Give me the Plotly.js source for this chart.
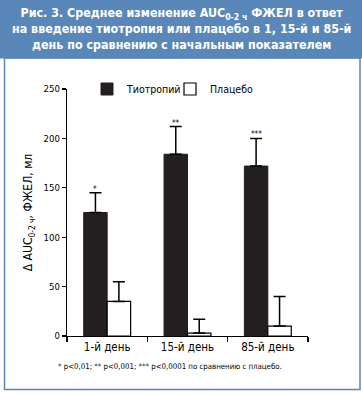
<!DOCTYPE html>
<html>
<head>
<meta charset="utf-8">
<script src="https://cdn.plot.ly/plotly-3.0.1.min.js"></script>
<style>
html,body{margin:0;padding:0;background:#fff;}
#chart{width:362px;height:393px;}
#chart svg text{font-stretch:condensed;}
</style>
</head>
<body>
<div id="chart"></div>
<script>
// ---- data ----
var categories = ["1-й день", "15-й день", "85-й день"];
var tiotropium = [125, 184, 172];
var tiotropiumErr = [20, 28, 28];
var placebo = [35, 3, 10];
var placeboErr = [20, 14, 30];
var significance = ["*", "**", "***"];
var seriesNames = ["Тиотропий", "Плацебо"];
var yTicks = [0, 50, 100, 150, 200, 250];

// ---- layout geometry ----
var W = 362, H = 393;
var M = {l: 67, r: 54, t: 89, b: 57};
var pw = W - M.l - M.r, ph = H - M.t - M.b;
function px(x) { return (x - M.l) / pw; }
function py(y) { return 1 - (y - M.t) / ph; }

var FONT = "'DejaVu Sans Condensed', 'DejaVu Sans', sans-serif";
var BLUE = "#5a87b9";
var DARK = "#231f20";

var traces = [
  {
    type: "bar", name: seriesNames[0], x: categories, y: tiotropium,
    marker: {color: DARK, line: {color: DARK, width: 1}},
    error_y: {type: "data", symmetric: false, array: tiotropiumErr, arrayminus: tiotropium.map(function(){return 0;}),
              color: "#000", thickness: 1.5, width: 6}
  },
  {
    type: "bar", name: seriesNames[1], x: categories, y: placebo,
    marker: {color: "#fff", line: {color: "#000", width: 1.2}},
    error_y: {type: "data", symmetric: false, array: placeboErr, arrayminus: placebo.map(function(){return 0;}),
              color: "#000", thickness: 1.5, width: 6}
  }
];

var annotations = [];
categories.forEach(function(c, i) {
  annotations.push({
    x: c, y: tiotropium[i] + tiotropiumErr[i], xref: "x", yref: "y",
    text: significance[i], showarrow: false, xshift: -11.75, yanchor: "bottom", yshift: -3,
    font: {family: FONT, size: 8, color: "#000"}
  });
});
annotations.push({
  xref: "paper", yref: "paper", x: px(181), y: py(29), xanchor: "center", yanchor: "middle",
  text: "Рис. 3. Среднее изменение AUC<sub>0-2 ч</sub> ФЖЕЛ в ответ<br>на введение тиотропия или плацебо в 1, 15-й и 85-й<br>день по сравнению с начальным показателем",
  showarrow: false, align: "center",
  font: {family: FONT, size: 12.4, color: "#fff", weight: "bold"}
});
annotations.push({
  xref: "paper", yref: "paper", x: px(170), y: py(366), xanchor: "center", yanchor: "middle",
  text: "* p&lt;0,01; ** p&lt;0,001; *** p&lt;0,0001 по сравнению с плацебо.",
  showarrow: false, font: {family: FONT, size: 7.8, color: "#000"}
});

var shapes = [
  {type: "rect", xref: "paper", yref: "paper", x0: px(0), x1: px(W), y0: py(0), y1: py(58.5),
   fillcolor: BLUE, line: {width: 0}, layer: "below"},
  {type: "rect", xref: "paper", yref: "paper", x0: px(4.5), x1: px(360), y0: py(58), y1: py(389.5),
   fillcolor: "rgba(0,0,0,0)", line: {color: BLUE, width: 1.5}, layer: "below"}
];

var layout = {
  width: W, height: H,
  margin: M,
  paper_bgcolor: "#fff", plot_bgcolor: "#fff",
  barmode: "group", bargap: 0.416, bargroupgap: 0,
  showlegend: true,
  legend: {orientation: "h", x: px(87), y: py(89), xanchor: "left", yanchor: "middle",
           font: {family: FONT, size: 10.5, color: "#000"}, bgcolor: "rgba(0,0,0,0)",
           entrywidth: 38, entrywidthmode: "pixels", traceorder: "normal"},
  font: {family: FONT, color: "#000"},
  xaxis: {
    type: "category", range: [-0.5, 2.5], showline: true, linecolor: "#000", linewidth: 1.2,
    ticks: "outside", tickson: "boundaries", ticklen: 5, tickcolor: "#000", tickwidth: 1.2,
    showgrid: false, zeroline: false, tickfont: {family: FONT, size: 11.5, color: "#000"}
  },
  yaxis: {
    range: [0, 250], tickvals: yTicks, showline: true, linecolor: "#000", linewidth: 1.2,
    ticks: "outside", ticklen: 4, tickcolor: "#000", tickwidth: 1.2,
    showgrid: false, zeroline: false, tickfont: {family: FONT, size: 9.5, color: "#000"},
    title: {text: "Δ AUC<sub>0-2 ч</sub>, ФЖЕЛ, мл", font: {family: FONT, size: 12, color: "#000"}, standoff: 8}
  },
  annotations: annotations,
  shapes: shapes
};

Plotly.newPlot("chart", traces, layout, {displayModeBar: false, staticPlot: true});
</script>
</body>
</html>
